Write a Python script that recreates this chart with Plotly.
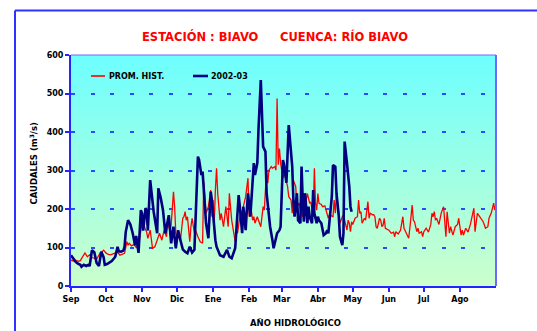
import base64
import struct
import zlib

import plotly.graph_objects as go

# ---------------------------------------------------------------- data
title_left = "ESTACIÓN : BIAVO"
title_right = "CUENCA: RÍO BIAVO"
x_title = "AÑO HIDROLÓGICO"
y_title = "CAUDALES (m<sup>3</sup>/s)"

month_labels = ["Sep", "Oct", "Nov", "Dic", "Ene", "Feb", "Mar", "Abr", "May", "Jun", "Jul", "Ago"]
month_starts = [0, 30, 61, 91, 122, 153, 181, 212, 242, 273, 303, 334]
y_ticks = [0, 100, 200, 300, 400, 500, 600]

series_names = ["PROM. HIST.", "2002-03"]

# historical mean daily discharge (day of hydrological year, m3/s)
hist_day = [0, 2, 4, 6, 8, 10, 12, 14, 16, 18, 20, 22, 24, 25, 27, 28, 30, 32, 34, 36,
            38, 40, 42, 44, 46, 48, 49, 50, 52, 54, 56, 58, 60, 61, 63, 65, 66, 68, 70, 72,
            74, 76, 78, 80, 82, 83, 85, 86, 88, 89, 90, 92, 93, 94, 96, 97, 98, 99, 100, 102,
            103, 104, 106, 107, 109, 111, 113, 114, 116, 118, 120, 121, 122, 123, 124, 125, 126, 128, 129, 131,
            132, 133, 135, 136, 138, 140, 141, 142, 143, 145, 146, 147, 148, 150, 152, 153, 154, 156, 157, 158,
            160, 161, 162, 163, 165, 166, 168, 169, 170, 172, 173, 175, 176, 177, 178, 179, 180, 182, 183, 184,
            186, 187, 189, 190, 191, 193, 194, 196, 197, 199, 200, 202, 203, 205, 206, 208, 209, 210, 211, 212,
            213, 215, 216, 218, 219, 221, 222, 224, 225, 226, 227, 228, 230, 231, 233, 234, 235, 237, 238, 239,
            240, 241, 242, 243, 244, 246, 247, 248, 249, 250, 252, 253, 254, 255, 256, 257, 259, 260, 261, 262,
            263, 265, 266, 267, 268, 269, 270, 271, 273, 275, 277, 278, 279, 281, 283, 285, 286, 288, 290, 291,
            293, 294, 295, 297, 298, 299, 301, 302, 303, 305, 307, 309, 310, 311, 312, 313, 314, 316, 318, 320,
            321, 322, 323, 325, 326, 327, 328, 330, 332, 333, 335, 336, 337, 339, 341, 343, 346, 347, 348, 349,
            351, 353, 354, 356, 358, 359, 361, 363, 364]
hist_q = [67, 65, 67, 64, 66, 75, 86, 76, 81, 74, 72, 70, 80, 86, 90, 93, 86, 82, 81, 83,
          85, 88, 80, 82, 85, 115, 106, 111, 104, 108, 100, 106, 150, 163, 154, 140, 124, 145, 98, 102,
          119, 137, 119, 145, 128, 163, 145, 158, 245, 206, 137, 124, 137, 119, 176, 180, 193, 171, 180, 115,
          154, 176, 137, 145, 128, 115, 111, 271, 189, 206, 249, 180, 223, 163, 249, 306, 241, 171, 189, 154,
          180, 206, 154, 241, 171, 128, 115, 145, 137, 180, 197, 154, 206, 232, 280, 180, 215, 171, 180, 163,
          180, 171, 163, 154, 206, 197, 301, 267, 301, 310, 306, 310, 301, 487, 315, 357, 320, 280, 293, 284,
          258, 232, 223, 189, 275, 258, 206, 215, 197, 180, 190, 223, 240, 215, 218, 180, 306, 215, 197, 240,
          215, 212, 206, 208, 197, 176, 185, 182, 180, 223, 189, 241, 189, 163, 180, 185, 171, 145, 171, 163,
          141, 167, 160, 171, 176, 180, 223, 189, 193, 163, 176, 171, 206, 219, 176, 189, 185, 185, 180, 154,
          150, 176, 171, 154, 158, 176, 150, 148, 145, 137, 140, 128, 141, 135, 145, 180, 150, 137, 124, 150,
          210, 171, 167, 141, 150, 137, 141, 128, 141, 150, 140, 160, 189, 180, 193, 171, 176, 160, 190, 206,
          160, 128, 193, 137, 154, 145, 132, 154, 160, 176, 132, 145, 132, 150, 140, 160, 202, 141, 160, 189,
          180, 171, 167, 150, 154, 176, 190, 215, 197]

# observed daily discharge 2002-03 (day of hydrological year, m3/s)
obs_day = [0, 2, 4, 6, 8, 9, 11, 13, 15, 16, 18, 20, 22, 24, 26, 28, 29, 31, 33, 35,
           37, 38, 40, 41, 43, 45, 46, 47, 49, 51, 53, 55, 56, 58, 60, 61, 62, 64, 65, 66,
           68, 70, 71, 74, 75, 77, 79, 81, 84, 86, 88, 90, 92, 94, 96, 98, 100, 102, 104, 106,
           109, 110, 112, 113, 115, 116, 118, 120, 121, 122, 124, 125, 127, 128, 131, 134, 136, 138, 141, 144,
           145, 147, 148, 150, 151, 152, 154, 155, 157, 158, 160, 161, 163, 165, 167, 168, 171, 173, 174, 177,
           179, 180, 182, 183, 185, 187, 190, 191, 192, 194, 195, 197, 198, 199, 200, 201, 203, 204, 205, 207,
           208, 209, 211, 212, 213, 215, 217, 219, 220, 221, 222, 224, 225, 227, 228, 230, 231, 233, 234, 235,
           237, 239, 240, 241]
obs_q = [80, 70, 63, 58, 55, 50, 55, 52, 55, 52, 93, 88, 60, 52, 89, 75, 55, 57, 60, 65,
         72, 76, 102, 90, 89, 92, 102, 140, 171, 160, 137, 106, 130, 86, 197, 188, 144, 202, 197, 144,
         275, 220, 193, 137, 254, 230, 197, 137, 184, 111, 154, 98, 145, 119, 95, 89, 85, 102, 87, 94,
         336, 328, 288, 297, 223, 163, 124, 245, 223, 180, 119, 102, 90, 80, 76, 94, 76, 72, 98, 236,
         206, 137, 206, 145, 197, 241, 180, 223, 319, 288, 319, 405, 535, 362, 349, 241, 154, 119, 98, 137,
         145, 154, 327, 315, 268, 418, 310, 223, 180, 241, 171, 163, 310, 223, 167, 241, 163, 206, 180, 163,
         249, 189, 163, 180, 171, 163, 132, 137, 145, 137, 171, 232, 314, 310, 241, 180, 128, 106, 137, 375,
         319, 258, 206, 193]

# ---------------------------------------------------------------- layout geometry (pixels)
W, H = 537, 331
PL, PR, PT, PB = 71, 496, 55, 286          # plot area edges


def px_x(px):
    return (px - PL) / (PR - PL)


def px_y(py):
    return (PB - py) / (PB - PT)


def vertical_gradient_png(top_rgb, bottom_rgb, rows=128, cols=2):
    """Tiny PNG with a top-to-bottom colour ramp, used as the plot background."""
    raw = bytearray()
    for i in range(rows):
        t = i / (rows - 1)
        px = bytes(round(a + (b - a) * t) for a, b in zip(top_rgb, bottom_rgb))
        raw += b"\x00" + px * cols

    def chunk(tag, data):
        return (struct.pack(">I", len(data)) + tag + data
                + struct.pack(">I", zlib.crc32(tag + data) & 0xFFFFFFFF))

    png = (b"\x89PNG\r\n\x1a\n"
           + chunk(b"IHDR", struct.pack(">IIBBBBB", cols, rows, 8, 2, 0, 0, 0))
           + chunk(b"IDAT", zlib.compress(bytes(raw)))
           + chunk(b"IEND", b""))
    return "data:image/png;base64," + base64.b64encode(png).decode()


FONT = "DejaVu Sans"
RED = "#FF0000"
NAVY = "#000080"
AXIS_BLUE = "#2424FF"
FRAME_BLUE = "#6A6AFF"

fig = go.Figure()

fig.add_trace(go.Scatter(x=hist_day, y=hist_q, mode="lines", name=series_names[0],
                         line=dict(color=RED, width=1.3), showlegend=False))
fig.add_trace(go.Scatter(x=obs_day, y=obs_q, mode="lines", name=series_names[1],
                         line=dict(color=NAVY, width=2.6), showlegend=False))

fig.add_layout_image(dict(source=vertical_gradient_png((110, 255, 255), (204, 255, 204)),
                          xref="paper", yref="paper", x=0, y=1, sizex=1, sizey=1,
                          xanchor="left", yanchor="top", sizing="stretch", layer="below"))

shapes = [
    # outer chart frame: left and top edges (the rest runs off the page)
    dict(type="line", xref="paper", yref="paper",
         x0=px_x(15), x1=px_x(15), y0=px_y(H), y1=px_y(10.5),
         line=dict(color="#3030FF", width=2), layer="below"),
    dict(type="line", xref="paper", yref="paper",
         x0=px_x(15), x1=px_x(W), y0=px_y(10.5), y1=px_y(10.5),
         line=dict(color="#3030FF", width=2), layer="below"),
    # right and top edges of the plot area
    dict(type="line", xref="paper", yref="paper", x0=1, x1=1, y0=0, y1=1,
         line=dict(color=FRAME_BLUE, width=2), layer="above"),
    dict(type="line", xref="paper", yref="paper", x0=0, x1=1, y0=1, y1=1,
         line=dict(color=FRAME_BLUE, width=1.2), layer="above"),
    # legend samples
    dict(type="line", xref="paper", yref="paper", x0=px_x(91), x1=px_x(105),
         y0=px_y(76), y1=px_y(76), line=dict(color=RED, width=1.6)),
    dict(type="line", xref="paper", yref="paper", x0=px_x(193), x1=px_x(208),
         y0=px_y(76), y1=px_y(76), line=dict(color=NAVY, width=2.6)),
]

bold = dict(family=FONT, weight="bold", color="black")
annotations = [
    dict(text=title_left, x=px_x(140), y=px_y(37), xanchor="left", yanchor="middle",
         font=dict(family=FONT, weight="bold", size=11.5, color=RED)),
    dict(text=title_right, x=px_x(278.3), y=px_y(37), xanchor="left", yanchor="middle",
         font=dict(family=FONT, weight="bold", size=11.5, color=RED)),
    dict(text=y_title, x=px_x(33), y=px_y(163.5), textangle=-90, xanchor="center",
         yanchor="middle", font=dict(**bold, size=8.5)),
    dict(text=x_title, x=px_x(295), y=px_y(322), xanchor="center", yanchor="middle",
         font=dict(**bold, size=8.5)),
    dict(text=series_names[0], x=px_x(107), y=px_y(76), xanchor="left", yanchor="middle",
         font=dict(**bold, size=8)),
    dict(text=series_names[1], x=px_x(209), y=px_y(76), xanchor="left", yanchor="middle",
         font=dict(**bold, size=8)),
]
for a in annotations:
    a.update(xref="paper", yref="paper", showarrow=False)

fig.update_layout(
    width=W, height=H,
    margin=dict(l=PL, r=W - PR, t=PT, b=H - PB, pad=0),
    paper_bgcolor="white",
    plot_bgcolor="rgba(0,0,0,0)",
    showlegend=False,
    font=dict(family=FONT, size=8, color="black"),
    shapes=shapes,
    annotations=annotations,
    xaxis=dict(range=[0, 365], tickmode="array", tickvals=month_starts, ticktext=month_labels,
               ticks="outside", ticklen=4, tickwidth=1.5, tickcolor=AXIS_BLUE,
               showline=True, linecolor=AXIS_BLUE, linewidth=2.4,
               showgrid=False, zeroline=False, fixedrange=True,
               tickfont=dict(**bold, size=8)),
    yaxis=dict(range=[0, 600], tickmode="array", tickvals=y_ticks,
               ticks="outside", ticklen=4, tickwidth=1.5, tickcolor=AXIS_BLUE,
               showline=True, linecolor=AXIS_BLUE, linewidth=2,
               showgrid=True, gridcolor="#2A4CFF", gridwidth=1.6, griddash="4px,15.5px",
               zeroline=False, fixedrange=True,
               tickfont=dict(**bold, size=8)),
)

fig.write_html("out.html", config={"displayModeBar": False})
